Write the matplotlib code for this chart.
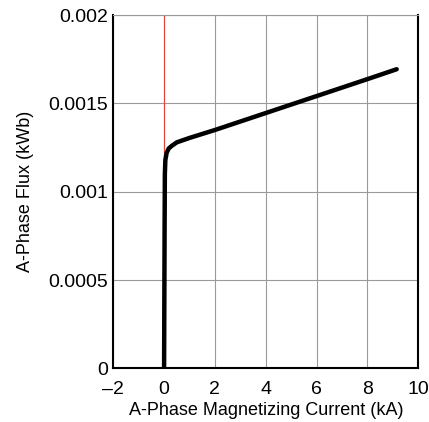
import matplotlib.pyplot as plt

plt.rcParams["font.family"] = ["Liberation Sans", "DejaVu Sans"]

# magnetizing curve (kA, kWb)
current_ka = [0.0, 0.01, 0.02, 0.03, 0.05, 0.1, 0.18, 0.3, 0.5, 1.0, 2.0, 4.0, 6.0, 8.0, 9.15]
flux_kwb = [0.0, 0.0004, 0.0008, 0.0011, 0.00118, 0.00122, 0.001245, 0.00126, 0.00128,
            0.001305, 0.00135, 0.001446, 0.001542, 0.001638, 0.001694]

# red reference line at zero current
ref_x = [0.0, 0.0]
ref_y = [0.0, 0.002]

x_ticks = [-2, 0, 2, 4, 6, 8, 10]
y_ticks = [0, 0.0005, 0.001, 0.0015, 0.002]
y_tick_labels = ["0", "0.0005", "0.001", "0.0015", "0.002"]

fig = plt.figure(figsize=(4.29, 4.22), dpi=100)
ax = fig.add_axes([0.264, 0.127, 0.711, 0.837])

ax.plot(ref_x, ref_y, color="#e8403a", lw=0.8, zorder=2)
ax.plot(current_ka, flux_kwb, color="black", lw=3.2, solid_capstyle="round", zorder=3)

ax.set_xlim(-2, 10)
ax.set_ylim(0, 0.002)
ax.set_xticks(x_ticks)
ax.set_xticklabels([str(t).replace("-", "\u2013") for t in x_ticks])
ax.set_yticks(y_ticks)
ax.set_yticklabels(y_tick_labels)
ax.tick_params(length=0, labelsize=14)
ax.tick_params(axis="y", pad=4)
ax.tick_params(axis="x", pad=9)
ax.grid(True, color="#9a9a9a", lw=0.8)
ax.set_axisbelow(True)

for side in ["left", "bottom", "right"]:
    ax.spines[side].set_linewidth(1.5)
    ax.spines[side].set_color("black")
ax.spines["top"].set_linewidth(0.8)
ax.spines["top"].set_color("#9a9a9a")

ax.set_xlabel("A-Phase Magnetizing Current (kA)", fontsize=13, labelpad=3)
ax.set_ylabel("A-Phase Flux (kWb)", fontsize=13, labelpad=10)

fig.savefig("out.png", dpi=100)
